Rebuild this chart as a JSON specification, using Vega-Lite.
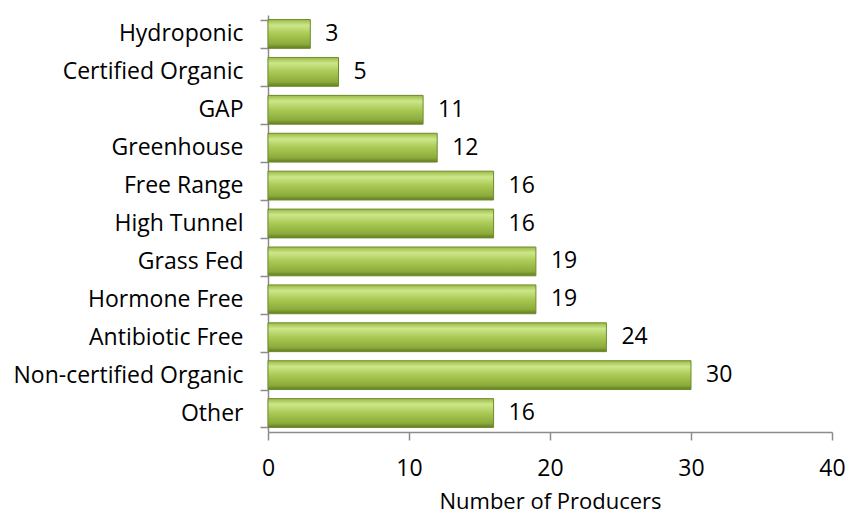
{
  "$schema": "https://vega.github.io/schema/vega-lite/v6.json",
  "width": 564,
  "height": 417,
  "autosize": {"type": "none"},
  "padding": {"left": 268, "top": 15, "right": 15, "bottom": 84},
  "background": "white",
  "config": {"view": {"stroke": null}, "font": "Open Sans"},
  "data": {
    "values": [
      {"method": "Hydroponic", "producers": 3},
      {"method": "Certified Organic", "producers": 5},
      {"method": "GAP", "producers": 11},
      {"method": "Greenhouse", "producers": 12},
      {"method": "Free Range", "producers": 16},
      {"method": "High Tunnel", "producers": 16},
      {"method": "Grass Fed", "producers": 19},
      {"method": "Hormone Free", "producers": 19},
      {"method": "Antibiotic Free", "producers": 24},
      {"method": "Non-certified Organic", "producers": 30},
      {"method": "Other", "producers": 16}
    ]
  },
  "encoding": {
    "y": {
      "field": "method",
      "type": "nominal",
      "sort": null,
      "scale": {"paddingInner": 0.24, "paddingOuter": 0.12},
      "axis": {
        "title": null,
        "tickBand": "extent",
        "domainColor": "#8c8c8c",
        "domainWidth": 1.5,
        "tickColor": "#8c8c8c",
        "tickWidth": 1.5,
        "tickSize": 8,
        "labelFontSize": 23,
        "labelColor": "#000000",
        "labelPadding": 17,
        "labelLimit": 400,
        "labelFont": "Open Sans"
      }
    },
    "x": {
      "field": "producers",
      "type": "quantitative",
      "scale": {"domain": [0, 40]},
      "axis": {
        "title": "Number of Producers",
        "values": [0, 10, 20, 30, 40],
        "grid": false,
        "labelFlush": false,
        "domainColor": "#8c8c8c",
        "domainWidth": 1.5,
        "tickColor": "#8c8c8c",
        "tickWidth": 1.5,
        "tickSize": 8,
        "labelFontSize": 23,
        "labelColor": "#000000",
        "labelPadding": 17,
        "titleFontSize": 22,
        "titleFontWeight": "normal",
        "titleColor": "#000000",
        "titlePadding": 11,
        "labelFont": "Open Sans",
        "titleFont": "Open Sans"
      }
    }
  },
  "layer": [
    {
      "mark": {
        "type": "bar",
        "stroke": "#6e8c2c",
        "strokeWidth": 1,
        "color": {
          "gradient": "linear",
          "x1": 0, "y1": 0, "x2": 0, "y2": 1,
          "stops": [
            {"offset": 0, "color": "#9aba45"},
            {"offset": 0.2, "color": "#cde68a"},
            {"offset": 0.5, "color": "#a9c954"},
            {"offset": 0.85, "color": "#8cab3a"},
            {"offset": 1, "color": "#5f7c22"}
          ]
        }
      }
    },
    {
      "mark": {"type": "text", "align": "left", "baseline": "middle", "dx": 15, "fontSize": 23, "color": "#000000", "font": "Open Sans"},
      "encoding": {"text": {"field": "producers", "type": "quantitative"}}
    }
  ]
}
